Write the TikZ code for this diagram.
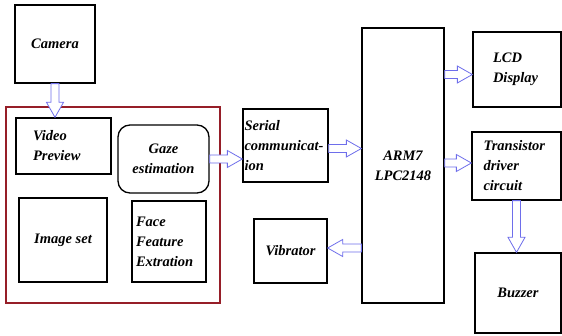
\documentclass[tikz,border=0pt]{standalone}
\usepackage{fontspec}
\setmainfont{Liberation Serif}
\usetikzlibrary{arrows.meta,calc,positioning}
\definecolor{framered}{RGB}{150,30,40}
\definecolor{arrblue}{RGB}{110,110,235}

\begin{document}
\begin{tikzpicture}[x=1pt,y=-1pt,>=Latex]
  \tikzset{
    blk/.style={draw=black,line width=1.3pt,fill=white,inner sep=0pt,
                font=\fontsize{14.5}{20}\selectfont\bfseries\itshape},
    rblk/.style={blk,rounded corners=12pt},
    frame/.style={draw=framered,line width=1.3pt},
    harrow/.style={draw=arrblue,line width=0.8pt,fill=white,line join=miter,
      to path={let \p1=(\tikztostart),\p2=(\tikztotarget),
        \n1={atan2(\y2-\y1,\x2-\x1)},\n2={veclen(\x2-\x1,\y2-\y1)} in
        [shift={(\p1)},rotate=\n1] (0pt,-4pt) -- ({\n2*1pt-15pt},-4pt) -- ({\n2*1pt-15pt},-8.5pt)
        -- ({\n2*1pt},0pt) -- ({\n2*1pt-15pt},8.5pt) -- ({\n2*1pt-15pt},4pt) -- (0pt,4pt) -- cycle}}
  }
  \useasboundingbox (0,0) rectangle (562,336);
  % camera and the processing group
  \node[blk,minimum width=80pt,minimum height=78pt] (camera) at (55,44) {Camera};
  \node[frame,minimum width=214pt,minimum height=196pt] (group) at (113,205) {};
  \node[blk,minimum width=95pt,minimum height=56pt,text width=61pt,inner xsep=17pt,align=left]
    (vprev) at (63.5,146) {Video\\Preview};
  \node[rblk,minimum width=91pt,minimum height=68pt,align=center] (gaze) at (163.5,159) {Gaze\\estimation};
  \node[blk,minimum width=88pt,minimum height=84pt] (imgset) at (63,240) {Image set};
  \node[blk,minimum width=74pt,minimum height=81pt,text width=66pt,inner xsep=4pt,align=left]
    (face) at (169,241.5) {Face\\Feature\\Extration};
  % controller side
  \node[blk,minimum width=85pt,minimum height=73pt,text width=82pt,inner xsep=1.5pt,align=left]
    (serial) at (285.5,145.5) {Serial\\communicat-\\ion};
  \node[blk,minimum width=82pt,minimum height=275pt,align=center] (arm) at (403,165.5) {ARM7\\LPC2148};
  \node[blk,minimum width=73pt,minimum height=64pt] (vib) at (290.5,251) {Vibrator};
  \node[blk,minimum width=88pt,minimum height=75pt,text width=48pt,inner xsep=20pt,align=left]
    (lcd) at (517,69.5) {LCD\\Display};
  \node[blk,minimum width=89pt,minimum height=68pt,text width=66pt,inner xsep=11.5pt,align=left]
    (trans) at (516.5,166) {Transistor\\driver\\circuit};
  \node[blk,minimum width=86pt,minimum height=80pt] (buzzer) at (518,293) {Buzzer};
  % hollow arrows
  \draw[harrow] (camera.south) to (camera.south |- vprev.north);
  \draw[harrow] (gaze.east) to (gaze.east -| serial.west);
  \draw[harrow] ([yshift=-3pt]serial.east) to ([yshift=-3pt]serial.east -| arm.west);
  \draw[harrow] ([yshift=-5pt]arm.east |- lcd.west) to ([yshift=-5pt]lcd.west);
  \draw[harrow] ([yshift=3pt]arm.east |- trans.west) to ([yshift=3pt]trans.west);
  \draw[harrow] (trans.south) to (trans.south |- buzzer.north);
  \draw[harrow] ([yshift=3pt]arm.west |- vib.east) to ([yshift=3pt]vib.east);
\end{tikzpicture}
\end{document}
